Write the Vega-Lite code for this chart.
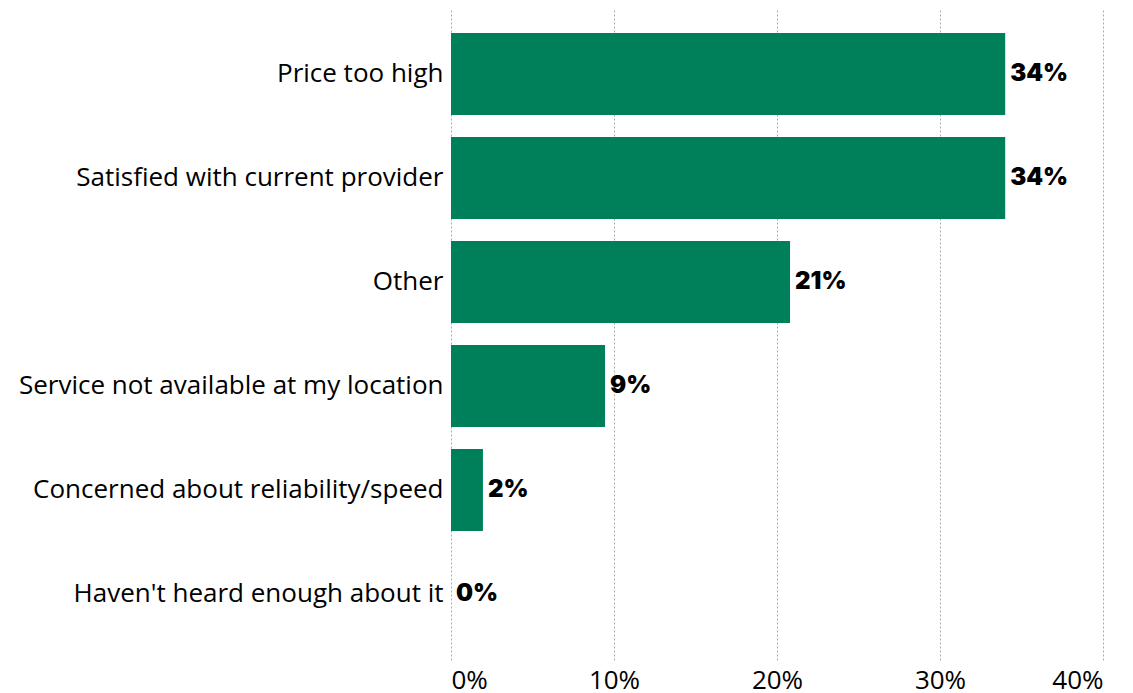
{
  "$schema": "https://vega.github.io/schema/vega-lite/v6.json",
  "width": 652,
  "height": 652,
  "autosize": {"type": "none"},
  "padding": {"left": 451, "top": 8, "right": 30, "bottom": 33},
  "background": "white",
  "config": {"view": {"stroke": null}, "font": "Open Sans"},
  "data": {
    "values": [
      {"reason": "Price too high", "share": 0.340},
      {"reason": "Satisfied with current provider", "share": 0.340},
      {"reason": "Other", "share": 0.208},
      {"reason": "Service not available at my location", "share": 0.0945},
      {"reason": "Concerned about reliability/speed", "share": 0.0196},
      {"reason": "Haven't heard enough about it", "share": 0.0}
    ]
  },
  "encoding": {
    "y": {
      "field": "reason",
      "type": "nominal",
      "sort": null,
      "scale": {"paddingInner": 0.21, "paddingOuter": 0.24},
      "axis": {
        "title": null,
        "domain": false,
        "ticks": false,
        "labelPadding": 8,
        "labelFontSize": 26,
        "labelColor": "#000000",
        "labelFont": "Open Sans",
        "labelLimit": 460
      }
    },
    "x": {
      "field": "share",
      "type": "quantitative",
      "scale": {"domain": [0, 0.4], "nice": false},
      "axis": {
        "title": null,
        "format": ".0%",
        "values": [0, 0.1, 0.2, 0.3, 0.4],
        "domain": false,
        "ticks": false,
        "grid": true,
        "gridDash": [2, 2],
        "gridColor": "#aaaaaa",
        "gridWidth": 1,
        "labelPadding": 7,
        "labelFontSize": 26,
        "labelColor": "#000000",
        "labelFont": "Open Sans"
      }
    }
  },
  "layer": [
    {"mark": {"type": "bar", "color": "#00805A"}},
    {
      "mark": {"type": "text", "align": "left", "baseline": "middle", "dx": 5, "fontSize": 24, "fontWeight": 900, "font": "Inter", "color": "#000000"},
      "encoding": {"text": {"field": "share", "type": "quantitative", "format": ".0%"}}
    }
  ]
}
